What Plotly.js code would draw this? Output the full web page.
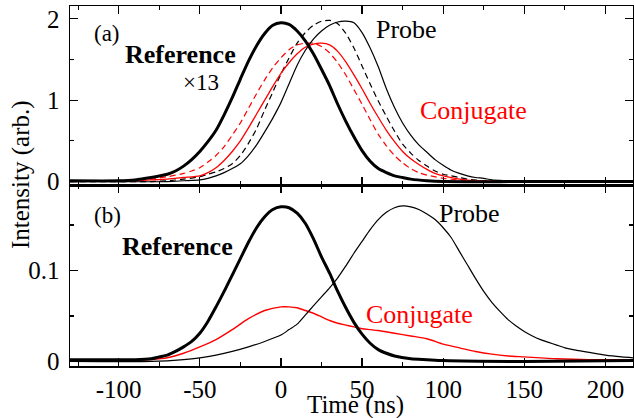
<!DOCTYPE html>
<html><head><meta charset="utf-8">
<script src="https://cdn.plot.ly/plotly-3.0.1.min.js"></script>
<style>html,body{margin:0;padding:0;background:#fff}</style>
</head><body><div id="chart" style="width:634px;height:418px"></div>
<script>
// ---- panel (a) ----
const refA_t = [-130,-100,-90,-80,-70,-65,-60,-55,-50,-45,-40,-35,-30,-25,-20,-15,-10,-5,0,5,10,15,20,25,30,35,40,45,50,55,60,65,70,75,80,90,100,150,217];
const refA_v = [0.01,0.01,0.02,0.05,0.09,0.13,0.19,0.27,0.37,0.49,0.63,0.82,1.03,1.26,1.48,1.67,1.82,1.92,1.95,1.93,1.85,1.73,1.57,1.38,1.18,0.95,0.74,0.55,0.38,0.25,0.16,0.11,0.07,0.05,0.03,0.01,0.0,0.0,0.0];

const probeA_t = [-130,-70,-60,-50,-45,-40,-35,-30,-25,-20,-15,-10,-5,0,5,10,15,20,25,30,35,40,45,50,55,60,65,70,75,80,85,90,95,100,105,110,115,120,125,130,140,150,217];
const probeA_v = [0.0,0.0,0.01,0.02,0.04,0.07,0.11,0.16,0.22,0.32,0.45,0.61,0.78,0.97,1.20,1.43,1.61,1.75,1.85,1.92,1.96,1.97,1.95,1.83,1.64,1.41,1.14,0.91,0.72,0.57,0.45,0.36,0.27,0.20,0.14,0.10,0.07,0.05,0.04,0.02,0.01,0.0,0.0];

const probeDashA_t = [-130,-80,-70,-60,-50,-45,-40,-35,-30,-25,-20,-15,-10,-5,0,5,10,15,20,25,30,35,40,45,50,55,60,65,70,75,80,85,90,95,100,105,110,115,125,140,217];
const probeDashA_v = [0.0,0.0,0.01,0.03,0.06,0.09,0.12,0.16,0.22,0.32,0.47,0.65,0.88,1.10,1.32,1.52,1.70,1.83,1.92,1.97,1.98,1.94,1.82,1.64,1.42,1.20,0.99,0.80,0.62,0.46,0.35,0.26,0.19,0.13,0.09,0.07,0.05,0.03,0.01,0.0,0.0];

const conjA_t = [-130,-90,-80,-70,-60,-50,-45,-40,-35,-30,-25,-20,-15,-10,-5,0,5,10,15,20,25,30,35,40,45,50,55,60,65,70,75,80,85,90,95,100,110,120,140,217];
const conjA_v = [0.01,0.01,0.02,0.03,0.05,0.07,0.11,0.17,0.26,0.37,0.50,0.66,0.83,1.00,1.17,1.33,1.46,1.57,1.65,1.69,1.70,1.68,1.60,1.47,1.31,1.14,0.96,0.79,0.63,0.49,0.37,0.28,0.21,0.15,0.10,0.07,0.03,0.01,0.0,0.01];

const conjDashA_t = [-130,-100,-90,-80,-70,-60,-55,-50,-45,-40,-35,-30,-25,-20,-15,-10,-5,0,5,10,15,20,25,30,35,40,45,50,55,60,65,70,75,80,85,90,100,110,120,217];
const conjDashA_v = [0.0,0.01,0.02,0.03,0.06,0.10,0.13,0.17,0.24,0.32,0.43,0.57,0.72,0.90,1.08,1.25,1.40,1.52,1.62,1.68,1.70,1.70,1.66,1.58,1.46,1.31,1.13,0.95,0.76,0.58,0.44,0.32,0.23,0.16,0.11,0.08,0.04,0.02,0.01,0.0];

// ---- panel (b) ----
const refB_t = [-130,-100,-90,-80,-75,-70,-65,-60,-55,-50,-45,-40,-35,-30,-25,-20,-15,-10,-5,0,5,10,15,20,25,30,35,40,45,50,55,60,65,70,80,90,100,150,217];
const refB_v = [0.002,0.002,0.002,0.003,0.005,0.007,0.011,0.016,0.022,0.031,0.044,0.060,0.077,0.095,0.113,0.131,0.147,0.159,0.167,0.170,0.169,0.163,0.152,0.135,0.115,0.097,0.077,0.059,0.043,0.030,0.020,0.013,0.009,0.006,0.003,0.002,0.001,0.0,0.001];

const probeB_t = [-130,-80,-60,-50,-40,-30,-20,-10,0,5,10,15,20,25,30,35,40,45,50,55,60,65,70,75,80,85,90,95,100,105,110,115,120,125,130,135,140,145,150,155,160,165,170,175,180,190,200,210,217];
const probeB_v = [0.0,0.0,0.002,0.004,0.007,0.011,0.016,0.022,0.029,0.035,0.041,0.051,0.061,0.071,0.081,0.092,0.105,0.119,0.132,0.145,0.156,0.164,0.169,0.171,0.170,0.167,0.162,0.156,0.147,0.136,0.121,0.106,0.091,0.077,0.065,0.055,0.046,0.039,0.033,0.028,0.024,0.021,0.018,0.015,0.013,0.010,0.007,0.005,0.004];

const conjB_t = [-130,-90,-80,-70,-60,-50,-40,-30,-20,-10,0,5,10,15,20,25,30,35,40,45,50,55,60,70,80,90,100,110,120,130,140,150,170,190,217];
const conjB_v = [0.001,0.001,0.002,0.004,0.009,0.016,0.024,0.035,0.047,0.056,0.060,0.060,0.059,0.056,0.053,0.049,0.045,0.042,0.040,0.038,0.036,0.035,0.034,0.031,0.028,0.025,0.019,0.015,0.011,0.008,0.006,0.005,0.003,0.002,0.002];

// tick labels
const xTickVals = [-100,-50,0,50,100,150,200];
const xTickText = ['-100','-50','0','50','100','150','200'];
const yTopTickVals = [0,1,2];
const yTopTickText = ['0','1','2'];
const yBotTickVals = [0,0.1];
const yBotTickText = ['0','0.1'];

const RED = '#ff0000', BLK = '#000000';
const FONT = 'Liberation Serif';

function tr(x, y, xa, ya, color, width, dash) {
  return {x: x, y: y, xaxis: xa, yaxis: ya, type: 'scatter', mode: 'lines',
    line: {color: color, width: width, dash: dash || 'solid', shape: 'spline', smoothing: 0.7},
    hoverinfo: 'skip', showlegend: false};
}

const data = [
  tr(conjDashA_t, conjDashA_v, 'x2', 'y2', RED, 1.2, '6px,4px'),
  tr(probeDashA_t, probeDashA_v, 'x2', 'y2', BLK, 1.2, '6px,4px'),
  tr(conjA_t, conjA_v, 'x2', 'y2', RED, 1.3),
  tr(probeA_t, probeA_v, 'x2', 'y2', BLK, 1.2),
  tr(refA_t, refA_v, 'x2', 'y2', BLK, 3),
  tr(conjB_t, conjB_v, 'x', 'y', RED, 1.4),
  tr(probeB_t, probeB_v, 'x', 'y', BLK, 1.2),
  tr(refB_t, refB_v, 'x', 'y', BLK, 3)
];

const L = 70, R = 633, T = 6, B = 366;
const W = 634, H = 418;
const px = v => (v - L) / (R - L);
const py = v => (B - v) / (B - T);
const split = py(185);

const axCommon = {
  showline: true, linecolor: '#000', linewidth: 1.5, mirror: 'allticks',
  ticks: 'inside', ticklen: 8, tickwidth: 1.3, tickcolor: '#000',
  showgrid: false, zeroline: false, fixedrange: true,
  tickfont: {family: FONT, size: 25, color: '#000'}
};

function ann(text, x, y, size, color, bold, extra) {
  return Object.assign({text: bold ? '<b>' + text + '</b>' : text,
    xref: 'paper', yref: 'paper', x: px(x), y: py(y),
    xanchor: 'center', yanchor: 'middle', showarrow: false,
    font: {family: FONT, size: size, color: color}}, extra || {});
}

const layout = {
  width: W, height: H,
  font: {family: FONT, color: '#000'},
  margin: {l: L, r: W - R, t: T, b: H - B},
  paper_bgcolor: '#fff', plot_bgcolor: '#fff',
  showlegend: false,
  xaxis: Object.assign({}, axCommon, {domain: [0, 1], anchor: 'y', range: [-130, 217],
    tickmode: 'array', tickvals: xTickVals, ticktext: xTickText,
    minor: {tickmode: 'linear', tick0: 0, dtick: 25, ticks: 'inside', ticklen: 4, tickwidth: 1.2, tickcolor: '#000'}}),
  xaxis2: Object.assign({}, axCommon, {domain: [0, 1], anchor: 'y2', range: [-130, 217],
    tickmode: 'array', tickvals: xTickVals, ticktext: xTickText, showticklabels: false,
    minor: {tickmode: 'linear', tick0: 0, dtick: 25, ticks: 'inside', ticklen: 4, tickwidth: 1.2, tickcolor: '#000'}}),
  yaxis: Object.assign({}, axCommon, {domain: [0, split], anchor: 'x', range: [-0.005, 0.194],
    tickmode: 'array', tickvals: yBotTickVals, ticktext: yBotTickText, ticklabelstandoff: 4,
    minor: {tickmode: 'linear', tick0: 0, dtick: 0.05, ticks: 'inside', ticklen: 4, tickwidth: 1.2, tickcolor: '#000'}}),
  yaxis2: Object.assign({}, axCommon, {domain: [split, 1], anchor: 'x2', range: [-0.042, 2.157],
    tickmode: 'array', tickvals: yTopTickVals, ticktext: yTopTickText, ticklabelstandoff: 4,
    minor: {tickmode: 'linear', tick0: 0, dtick: 0.5, ticks: 'inside', ticklen: 4, tickwidth: 1.2, tickcolor: '#000'}}),
  annotations: [
    ann('(a)', 107, 34, 23, BLK, false),
    ann('Reference', 180, 55, 26, BLK, true),
    ann('×13', 201, 82, 23, BLK, false),
    ann('Probe', 406, 30, 26, BLK, false),
    ann('Conjugate', 473, 111, 26, RED, false),
    ann('(b)', 107, 216, 23, BLK, false),
    ann('Reference', 177, 246, 26, BLK, true),
    ann('Probe', 469, 214, 26, BLK, false),
    ann('Conjugate', 419, 314, 26, RED, false),
    ann('Time (ns)', 355, 405, 25, BLK, false),
    ann('Intensity (arb.)', 21, 175, 25, BLK, false, {textangle: -90})
  ]
};

Plotly.newPlot('chart', data, layout, {staticPlot: true, displayModeBar: false});
</script></body></html>
